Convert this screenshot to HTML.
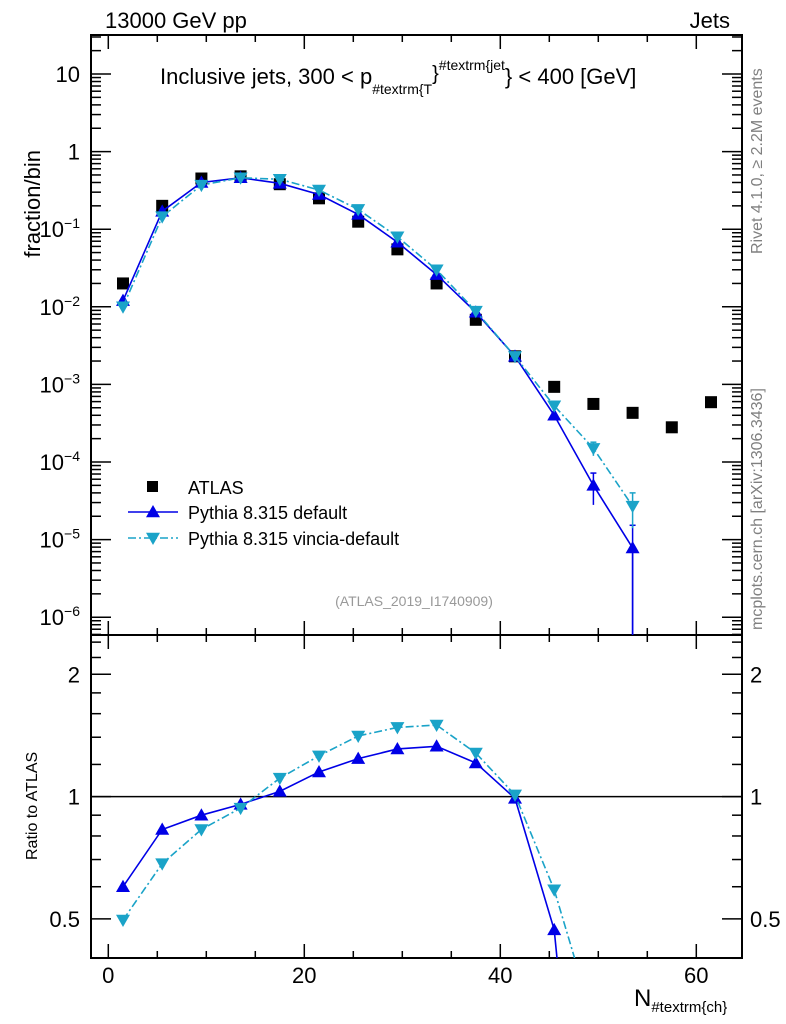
<!DOCTYPE html>
<html><head><meta charset="utf-8"><style>
html,body{margin:0;background:#fff;width:786px;height:1024px;overflow:hidden}
svg{display:block;font-family:"Liberation Sans",sans-serif}
</style></head><body>
<svg id="c" width="786" height="1024" viewBox="0 0 786 1024" style="overflow:hidden">
</svg>
<script>
const xCenters=[1.5,5.5,9.5,13.5,17.5,21.5,25.5,29.5,33.5,37.5,41.5,45.5,49.5,53.5,57.5,61.5];
const atlasVals=[0.02,0.2,0.45,0.48,0.38,0.25,0.125,0.055,0.02,0.0068,0.0023,0.00093,0.00056,0.00043,0.00028,0.00059];
const defVals=[0.012,0.17,0.4,0.46,0.39,0.28,0.155,0.068,0.026,0.0085,0.0023,0.0004,0.00005,0.0000078];
const defErr=[0,0,0,0,0,0,0,0,0,0,0,0,0.000022,0.0000075];
const vinVals=[0.01,0.145,0.37,0.46,0.44,0.32,0.18,0.08,0.03,0.0088,0.0023,0.00053,0.00015,0.000027];
const vinErr=[0,0,0,0,0,0,0,0,0,0,0,0,0.00003,0.000013];
const defRatio=[0.60,0.83,0.90,0.957,1.03,1.15,1.24,1.31,1.33,1.21,0.99,0.47,0.05];
const vinRatio=[0.497,0.684,0.83,0.937,1.11,1.26,1.41,1.48,1.50,1.28,1.01,0.59,0.28];
const xTicks=[0,20,40,60];
const yMainTicks=[1,0,-1,-2,-3,-4,-5,-6];
const yRatioTicks=[0.5,1,2];

const NS="http://www.w3.org/2000/svg";
const svg=document.getElementById('c');
function el(t,a,p){const e=document.createElementNS(NS,t);for(const k in a)e.setAttribute(k,a[k]);(p||svg).appendChild(e);return e;}
const L=91,R=742,T=35,M=635,B=958;
const X=v=>108.3+v*9.8;
const Y=v=>74+(1-Math.log10(v))*77.6;
const YR=v=>796.6-122.3*Math.log2(v);
const BLUE="#0000e6",CYAN="#1aa3c8";

let f=el('rect',{x:L,y:T,width:R-L,height:M-T,fill:'none',stroke:'#000','stroke-width':2});

f=el('rect',{x:L,y:M,width:R-L,height:B-M,fill:'none',stroke:'#000','stroke-width':2});


for(let v=0;v<=64;v+=5){const x=X(v);const big=v%20===0;const len=big?14:7;
 for(const [y0,dir] of [[T,1],[M,-1],[M,1],[B,-1]]){el('line',{x1:x,x2:x,y1:y0,y2:y0+dir*len,stroke:'#000','stroke-width':1.5});}}
xTicks.forEach(v=>{const t=el('text',{x:X(v),y:983,'font-size':22,'text-anchor':'middle'});t.textContent=v;
});

for(let d=-7;d<=1;d++){for(let m=1;m<10;m++){const v=m*Math.pow(10,d);const y=Y(v);if(y<T||y>M)continue;const len=m===1?20:10;
 el('line',{x1:L,x2:L+len,y1:y,y2:y,stroke:'#000','stroke-width':1.5});el('line',{x1:R,x2:R-len,y1:y,y2:y,stroke:'#000','stroke-width':1.5});}}
yMainTicks.forEach(d=>{const y=Y(Math.pow(10,d))+8;let t=el('text',{x:80,y:y,'font-size':22,'text-anchor':'end'});
 if(d===1)t.textContent='10';else if(d===0)t.textContent='1';else{t.textContent='10';const s=el('tspan',{dy:-9,'font-size':14},t);s.textContent='\u2212'+(-d);}
 });

[0.4,0.5,0.6,0.7,0.8,0.9,1,1.2,1.4,1.6,1.8,2,2.2,2.4].forEach(v=>{const y=YR(v);const big=(v===0.5||v===1||v===2);const len=big?20:10;
 el('line',{x1:L,x2:L+len,y1:y,y2:y,stroke:'#000','stroke-width':1.5});el('line',{x1:R,x2:R-len,y1:y,y2:y,stroke:'#000','stroke-width':1.5});});
yRatioTicks.forEach(v=>{let t=el('text',{x:80,y:YR(v)+8,'font-size':22,'text-anchor':'end'});t.textContent=v;
 
 t=el('text',{x:750,y:YR(v)+8,'font-size':22});t.textContent=v;
 });
el('line',{x1:L,x2:R,y1:YR(1),y2:YR(1),stroke:'#000','stroke-width':1.5});

function tri(x,y,up,color){const s=7;const pts=up?`${x},${y-s} ${x-s},${y+s*0.75} ${x+s},${y+s*0.75}`:`${x},${y+s} ${x-s},${y-s*0.75} ${x+s},${y-s*0.75}`;return el('polygon',{points:pts,fill:color});}
function series(vals,err,conv,lo,hi,color,dash,up,name){
 const pts=vals.map((v,i)=>[X(xCenters[i]),conv(v)]);
 const g=el('g',{});
 const cp=el('clipPath',{id:name+'-clip'},g);el('rect',{x:L,y:lo,width:R-L,height:hi-lo},cp);
 const inner=el('g',{'clip-path':`url(#${name}-clip)`},g);
 let s='';pts.forEach((p,i)=>{s+=(i?'L':'M')+p[0]+','+p[1];});
 el('path',{d:s,fill:'none',stroke:color,'stroke-width':1.6,'stroke-dasharray':dash||'none'},inner);
 pts.forEach((p,i)=>{if(p[1]>hi||p[1]<lo)return;
  if(err&&err[i]){const y1=conv(vals[i]+err[i]),y2=vals[i]-err[i]>0?conv(vals[i]-err[i]):hi;
   el('line',{x1:p[0],x2:p[0],y1:y1,y2:Math.min(y2,hi),stroke:color,'stroke-width':1.5},inner);el('line',{x1:p[0]-3,x2:p[0]+3,y1:y1,y2:y1,stroke:color,'stroke-width':1.5},inner);}
  const m=tri(p[0],p[1],up,color);inner.appendChild(m);});
 return g;}

atlasVals.forEach((v,i)=>{const r=el('rect',{x:X(xCenters[i])-6,y:Y(v)-6,width:12,height:12,fill:'#000'});
});
series(defVals,defErr,Y,T,M,BLUE,null,true,'pythia-default-main');
el('line',{x1:X(53.5),x2:X(53.5),y1:Y(defVals[13]),y2:M,stroke:BLUE,'stroke-width':1.5});
series(vinVals,vinErr,Y,T,M,CYAN,'8,3,2,3',false,'pythia-vincia-main');
series(defRatio,null,YR,M,B,BLUE,null,true,'pythia-default-ratio');
series(vinRatio,null,YR,M,B,CYAN,'8,3,2,3',false,'pythia-vincia-ratio');

function txt(x,y,s,size,attrs,name){const t=el('text',Object.assign({x:x,y:y,'font-size':size},attrs||{}));t.textContent=s;return t;}
txt(105,28,'13000 GeV pp',22,{},'energy-label');
txt(730,28,'Jets',22,{'text-anchor':'end'},'process-label');
const tt=txt(160,84,'Inclusive jets, 300 < p',22,{},'plot-title');
let s=el('tspan',{dy:10,'font-size':14},tt);s.textContent='#textrm{T';
s=el('tspan',{dy:-14,'font-size':20},tt);s.textContent='}';
s=el('tspan',{dy:-10,'font-size':14},tt);s.textContent='#textrm{jet';
s=el('tspan',{dy:14,'font-size':22},tt);s.textContent='} < 400 [GeV]';
txt(0,0,'fraction/bin',22,{transform:'translate(40,150) rotate(-90)','text-anchor':'end'},'y-axis-title');
txt(0,0,'Ratio to ATLAS',16,{transform:'translate(37,860) rotate(-90)'},'ratio-y-axis-title');
const xt=txt(634,1006,'N',24,{},'x-axis-title');s=el('tspan',{dy:6,'font-size':15},xt);s.textContent='#textrm{ch}';
txt(0,0,'Rivet 4.1.0, \u2265 2.2M events',16,{transform:'translate(762,254) rotate(-90)',fill:'#808080'},'rivet-label');
txt(0,0,'mcplots.cern.ch [arXiv:1306.3436]',16,{transform:'translate(762,630) rotate(-90)',fill:'#808080'},'mcplots-label');
txt(414,606,'(ATLAS_2019_I1740909)',14,{'text-anchor':'middle',fill:'#999'},'analysis-id');

const lg=el('g',{});
el('rect',{x:147,y:481,width:11,height:11,fill:'#000'},lg);
txt(188,494,'ATLAS',18,{},'legend-atlas');
el('line',{x1:128,x2:178,y1:512,y2:512,stroke:BLUE,'stroke-width':1.6},lg);lg.appendChild(tri(153,512,true,BLUE));
txt(188,519,'Pythia 8.315 default',18,{},'legend-default');
el('line',{x1:128,x2:178,y1:538,y2:538,stroke:CYAN,'stroke-width':1.6,'stroke-dasharray':'8,3,2,3'},lg);lg.appendChild(tri(153,538,false,CYAN));
txt(188,545,'Pythia 8.315 vincia-default',18,{},'legend-vincia');
</script>
</body></html>
